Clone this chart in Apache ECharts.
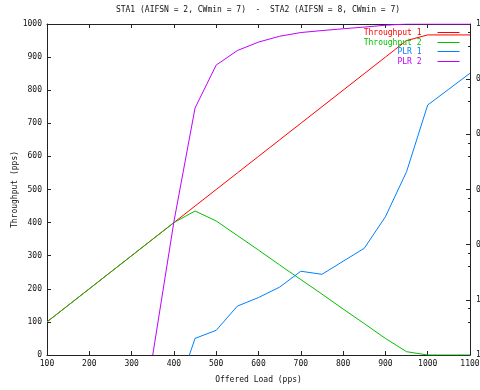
<!DOCTYPE html>
<html>
<head>
<meta charset="utf-8">
<script src="https://cdn.jsdelivr.net/npm/echarts@6/dist/echarts.min.js"></script>
<style>html,body{margin:0;padding:0;background:#fff}#c{width:480px;height:390px}</style>
</head>
<body>
<div id="c"></div>
<script>
const titleText = 'STA1 (AIFSN = 2, CWmin = 7)  -  STA2 (AIFSN = 8, CWmin = 7)';
const xName = 'Offered Load (pps)';
const yName = 'Throughput (pps)';
const loads = [100,150,200,250,300,350,400,450,500,550,600,650,700,750,800,850,900,950,1000,1050,1100];
const throughput1 = [100,150,200,250,300,350,400,450,500,550,600,650,700,750,800,850,900,950,967,967,967];
const throughput2 = [100,150,200,250,300,350,400,435,405,361,317,272,228,184,139,95,50,10,0,0,0];
const plr1 = [null,null,null,null,null,null,1.5e-7,2.0e-6,2.8e-6,7.7e-6,1.1e-5,1.7e-5,3.3e-5,2.9e-5,5.0e-5,8.6e-5,3.2e-4,2.1e-3,0.034,0.066,0.128];
const plr2 = [null,null,null,null,null,1e-6,2.6e-4,0.03,0.18,0.33,0.47,0.6,0.7,0.76,0.82,0.88,0.95,1,1,1,1];
const seriesNames = ['Throughput 1','Throughput 2','PLR 1','PLR 2'];
const colors = ['#ff0000','#00c000','#0080ff','#c000ff'];

const FONT = '"DejaVu Sans Mono", "Liberation Mono", monospace';
const txt = {fontFamily: FONT, fontSize: 8, color: '#111'};
const axisLine = {show: true, lineStyle: {color: '#222', width: 1}};
const tick = {show: true, inside: true, length: 4, lineStyle: {color: '#222'}};

function pairs(arr){ return loads.map((x,i)=>[x, arr[i]]); }
function plain(v){ return String(Math.round(v)); }
function logLabel(v){
  const e = Math.round(Math.log10(v));
  if (e >= -4) return (Math.pow(10, e)).toFixed(Math.max(0,-e));
  return '1e-0' + (-e);
}

const chart = echarts.init(document.getElementById('c'), null, {renderer: 'canvas'});
const legends = seriesNames.map((n,i)=>({
  data: [{name: n, textStyle: {color: colors[i]}, itemStyle: {opacity: 0, borderWidth: 0}}],
  orient: 'vertical', align: 'right', right: 20, top: [27.5, 37.5, 46.5, 56.5][i],
  padding: 0, itemWidth: 22, itemHeight: 10,
  itemStyle: {opacity: 0, borderWidth: 0},
  lineStyle: {width: 1, color: colors[i]},
  textStyle: {fontFamily: FONT, fontSize: 8, lineHeight: 10, padding: [0, 11, 0, 0]},
  selectedMode: false
}));

chart.setOption({
  animation: false,
  backgroundColor: '#fff',
  title: {text: titleText, left: 258, top: 6, padding: 0, textAlign: 'center',
    textStyle: {fontFamily: FONT, fontSize: 8, fontWeight: 'normal', color: '#111'}},
  legend: legends,
  grid: {left: 47, right: 10, top: 24, bottom: 35, containLabel: false, outerBoundsMode: 'none'},
  xAxis: [
    {type: 'value', min: 100, max: 1100, interval: 100, position: 'bottom',
     name: xName, nameLocation: 'middle', nameGap: 21, nameMoveOverlap: false, nameTextStyle: txt,
     axisLine: axisLine, axisTick: tick,
     axisLabel: Object.assign({margin: 5, formatter: plain}, txt), splitLine: {show: false}},
    {type: 'value', min: 100, max: 1100, interval: 100, position: 'top',
     axisLine: axisLine, axisTick: tick,
     axisLabel: {show: false}, splitLine: {show: false}}
  ],
  yAxis: [
    {type: 'value', min: 0, max: 1000, interval: 100, position: 'left',
     name: yName, nameLocation: 'middle', nameGap: 28, nameMoveOverlap: false, nameRotate: 90, nameTextStyle: txt,
     axisLine: axisLine, axisTick: tick,
     axisLabel: Object.assign({margin: 5, formatter: plain}, txt), splitLine: {show: false}},
    {type: 'log', logBase: 10, min: 1e-6, max: 1, position: 'right',
     axisLine: axisLine, axisTick: tick,
     minorTick: {show: true, splitNumber: 3, length: 2, lineStyle: {color: '#222'}},
     axisLabel: Object.assign({margin: 6, formatter: logLabel}, txt), splitLine: {show: false}}
  ],
  series: [
    {name: seriesNames[0], type: 'line', xAxisIndex: 0, yAxisIndex: 0, data: pairs(throughput1)},
    {name: seriesNames[1], type: 'line', xAxisIndex: 0, yAxisIndex: 0, data: pairs(throughput2)},
    {name: seriesNames[2], type: 'line', xAxisIndex: 0, yAxisIndex: 1, data: pairs(plr1)},
    {name: seriesNames[3], type: 'line', xAxisIndex: 0, yAxisIndex: 1, data: pairs(plr2)}
  ].map((s,i)=>Object.assign(s, {color: colors[i], showSymbol: false, symbol: 'none',
     itemStyle: {color: colors[i]}, lineStyle: {width: 1, color: colors[i]}, clip: true}))
});
</script>
</body>
</html>
